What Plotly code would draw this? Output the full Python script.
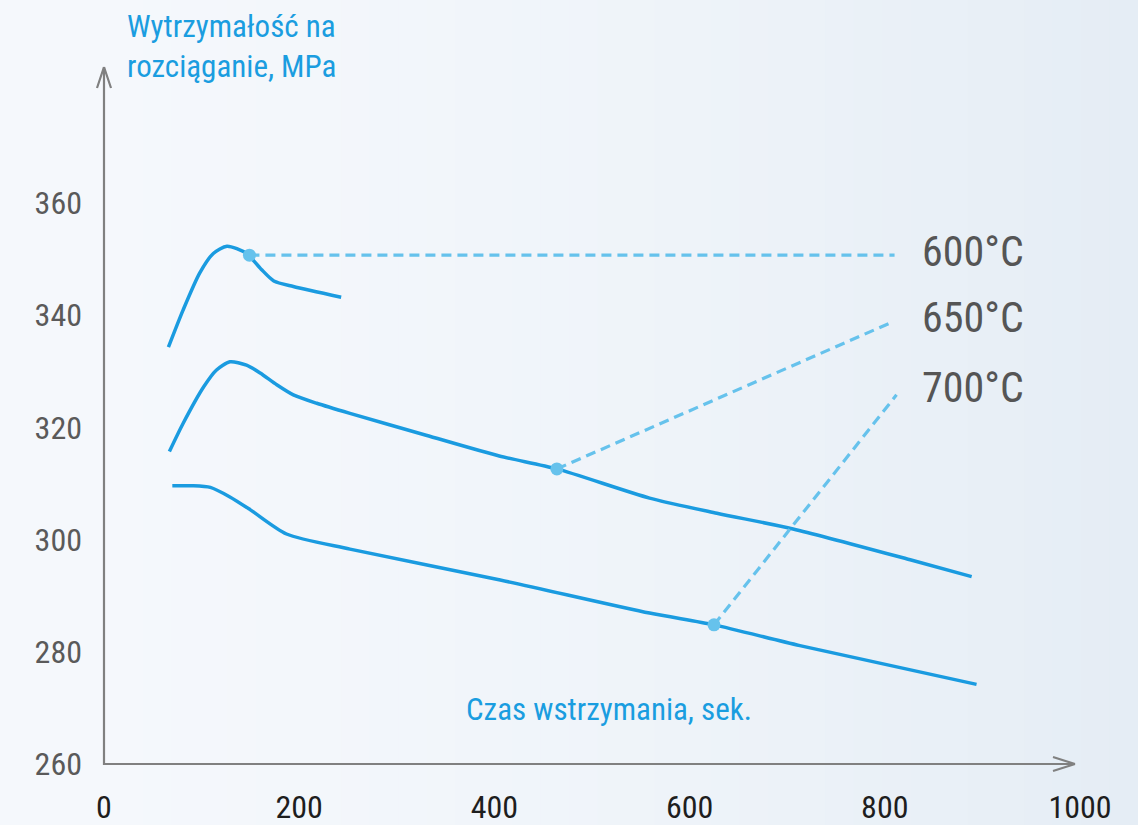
import plotly.graph_objects as go

# ---------------- data ----------------
x_600 = [66, 81, 98, 112, 126, 146, 161, 174, 194, 243]
y_600 = [334.3, 340.9, 347.5, 351.0, 352.3, 351.0, 348.2, 346.1, 345.1, 343.2]

x_650 = [67, 81, 102, 115, 129, 146, 160, 177, 194, 218, 252, 330, 405, 464, 559, 628, 706, 826, 889]
y_650 = [315.7, 320.7, 327.2, 330.2, 331.7, 331.1, 329.7, 327.6, 325.8, 324.3, 322.5, 318.6, 314.9, 312.6, 307.4, 304.7, 301.9, 296.4, 293.4]

x_700 = [70, 90, 109, 129, 150, 187, 252, 406, 559, 625, 713, 894]
y_700 = [309.6, 309.6, 309.3, 307.6, 305.3, 301.0, 298.3, 292.8, 286.9, 284.8, 281.1, 274.2]

labels = ["600°C", "650°C", "700°C"]
marker_x = [149, 464, 625]
marker_y = [350.7, 312.6, 284.8]
leader_end_x = [810, 808, 812]
leader_end_y = [350.7, 338.8, 325.8]
label_x = [836, 836, 836]
label_y = [351.4, 339.6, 327.2]

x_ticks = [0, 200, 400, 600, 800, 1000]
y_ticks = [260, 280, 300, 320, 340, 360]
x_range = [0, 1000]
y_range = [260, 385.13]

y_title = "Wytrzymałość na<br>rozciąganie, MPa"
x_title = "Czas wstrzymania, sek."

# ---------------- style ----------------
FONT = "Roboto Condensed, Roboto, sans-serif"
LINE_C = "#1a9be0"
LEAD_C = "#66c2ec"
AXIS_C = "#808080"
W, H = 1138, 825
L, R, T, B = 104, 1080, 62, 764


def px2paper(px, py):
    return (px - L) / (R - L), (B - py) / (B - T)


fig = go.Figure()

for xs, ys in [(x_600, y_600), (x_650, y_650), (x_700, y_700)]:
    fig.add_trace(go.Scatter(x=xs, y=ys, mode="lines",
                             line=dict(color=LINE_C, width=3.5, shape="spline", smoothing=0.7),
                             hoverinfo="skip", showlegend=False))

for i in range(3):
    fig.add_trace(go.Scatter(x=[marker_x[i], leader_end_x[i]], y=[marker_y[i], leader_end_y[i]],
                             mode="lines", line=dict(color=LEAD_C, width=3.2, dash="10px,6px"),
                             hoverinfo="skip", showlegend=False))

fig.add_trace(go.Scatter(x=marker_x, y=marker_y, mode="markers",
                         marker=dict(color=LEAD_C, size=13), hoverinfo="skip", showlegend=False))

annotations = []
for i in range(3):
    annotations.append(dict(x=label_x[i], y=label_y[i], xref="x", yref="y", text=labels[i],
                            showarrow=False, xanchor="left", yanchor="middle",
                            font=dict(family=FONT, size=42, color="#555555")))

tx, ty = px2paper(125, 6)
annotations.append(dict(x=tx, y=ty, xref="paper", yref="paper", text=y_title, showarrow=False,
                        xanchor="left", yanchor="top", align="left",
                        font=dict(family=FONT, size=31, color="#1a9de0")))
tx, ty = px2paper(609, 709)
annotations.append(dict(x=tx, y=ty, xref="paper", yref="paper", text=x_title, showarrow=False,
                        xanchor="center", yanchor="middle",
                        font=dict(family=FONT, size=31, color="#1a9de0")))

shapes = []
# background gradient
c0 = (245, 248, 252)
c1 = (229, 237, 245)
n = 40
for k in range(n):
    t = k / (n - 1)
    col = tuple(int(round(c0[j] + (c1[j] - c0[j]) * t ** 1.6)) for j in range(3))
    xa, _ = px2paper(W * k / n, 0)
    xb, _ = px2paper(min(W, W * (k + 1) / n + 1), 0)
    _, ya = px2paper(0, H)
    _, yb = px2paper(0, 0)
    shapes.append(dict(type="rect", xref="paper", yref="paper", x0=xa, x1=xb, y0=ya, y1=yb,
                       fillcolor="rgb(%d,%d,%d)" % col, line=dict(width=0), layer="below"))


def seg(p, q):
    a = px2paper(*p)
    b = px2paper(*q)
    shapes.append(dict(type="line", xref="paper", yref="paper", x0=a[0], y0=a[1], x1=b[0], y1=b[1],
                       line=dict(color=AXIS_C, width=2.2)))


# axes with open arrow heads
seg((104, 764), (1075, 764))
seg((104, 765), (104, 67))
seg((1053, 757), (1075, 764))
seg((1053, 771), (1075, 764))
seg((97, 88), (104, 67))
seg((111, 88), (104, 67))

fig.update_layout(
    width=W, height=H,
    margin=dict(l=L, r=W - R, t=T, b=H - B, autoexpand=False),
    paper_bgcolor="rgb(245,248,252)",
    plot_bgcolor="rgba(0,0,0,0)",
    shapes=shapes,
    annotations=annotations,
    showlegend=False,
    xaxis=dict(range=x_range, tickvals=x_ticks, ticktext=[str(v) for v in x_ticks],
               showgrid=False, zeroline=False, showline=False, ticks="", automargin=False,
               ticklabelstandoff=21,
               tickfont=dict(family=FONT, size=32, color="#1e1e1e")),
    yaxis=dict(range=y_range, tickvals=y_ticks, ticktext=[str(v) for v in y_ticks],
               showgrid=False, zeroline=False, showline=False, ticks="", automargin=False,
               ticklabelstandoff=21,
               tickfont=dict(family=FONT, size=32, color="#5a5a5a")),
)

page_js = (
    "document.documentElement.style.overflow='hidden';"
    "document.body.style.margin='0';"
    "document.body.style.overflow='hidden';"
)

fig.write_html("out.html", config={"displayModeBar": False}, post_script=page_js)
